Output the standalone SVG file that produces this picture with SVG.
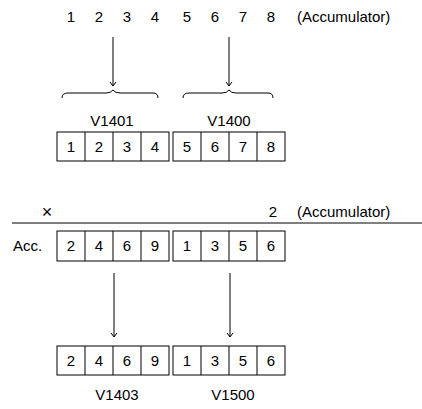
<svg xmlns="http://www.w3.org/2000/svg" width="422" height="409" viewBox="0 0 422 409">
<style>
text{font-family:"Liberation Sans",Arial,sans-serif;font-size:15px;fill:#000}
.c{text-anchor:middle}
.box{fill:#fff;stroke:#000;stroke-width:1}
.ln{fill:none;stroke:#000;stroke-width:1}
</style>
<defs>
<marker id="ah" markerWidth="8" markerHeight="8" refX="7" refY="4" orient="auto" markerUnits="userSpaceOnUse" viewBox="0 0 8 8">
<path d="M3,1 L7,4 L3,7" fill="none" stroke="#000" stroke-width="1"/>
</marker>
</defs>
<g id="top-acc">
<text class="c" x="71" y="22">1</text><text class="c" x="99" y="22">2</text><text class="c" x="127" y="22">3</text><text class="c" x="155" y="22">4</text>
<text class="c" x="187" y="22">5</text><text class="c" x="215" y="22">6</text><text class="c" x="243" y="22">7</text><text class="c" x="271" y="22">8</text>
<text x="297" y="22">(Accumulator)</text>
</g>
<g id="braces">
<path class="ln" d="M62,98 Q62,93 68,93 L106,93 Q111,93 113,90 Q115,93 120,93 L153,93 Q158,93 158,98"/>
<path class="ln" d="M183,98 Q183,93 189,93 L222,93 Q227,93 229,90 Q231,93 236,93 L268,93 Q273,93 273,98"/>
</g>
<g id="v1401">
<text class="c" x="112" y="126">V1401</text>
<rect class="box" x="57" y="132" width="112" height="29"/>
<path class="ln" d="M85,132V161M113,132V161M141,132V161"/>
<text class="c" x="71" y="152">1</text><text class="c" x="99" y="152">2</text><text class="c" x="127" y="152">3</text><text class="c" x="155" y="152">4</text>
</g>
<g id="v1400">
<text class="c" x="229" y="126">V1400</text>
<rect class="box" x="173" y="132" width="112" height="29"/>
<path class="ln" d="M201,132V161M229,132V161M257,132V161"/>
<text class="c" x="187" y="152">5</text><text class="c" x="215" y="152">6</text><text class="c" x="243" y="152">7</text><text class="c" x="271" y="152">8</text>
</g>
<g id="multiply">
<text class="c" x="47" y="218" style="font-size:18px">×</text>
<text class="c" x="273" y="217">2</text>
<text x="297" y="217">(Accumulator)</text>
<line class="ln" x1="12" y1="223" x2="422" y2="223"/>
</g>
<g id="acc">
<text x="13" y="251">Acc.</text>
<rect class="box" x="57" y="231" width="112" height="30"/>
<path class="ln" d="M85,231V261M113,231V261M141,231V261"/>
<text class="c" x="71" y="251">2</text><text class="c" x="99" y="251">4</text><text class="c" x="127" y="251">6</text><text class="c" x="155" y="251">9</text>
<rect class="box" x="173" y="231" width="112" height="30"/>
<path class="ln" d="M201,231V261M229,231V261M257,231V261"/>
<text class="c" x="187" y="251">1</text><text class="c" x="215" y="251">3</text><text class="c" x="243" y="251">5</text><text class="c" x="271" y="251">6</text>
</g>
<g id="v1403">
<rect class="box" x="57" y="346" width="112" height="29"/>
<path class="ln" d="M85,346V375M113,346V375M141,346V375"/>
<text class="c" x="71" y="366">2</text><text class="c" x="99" y="366">4</text><text class="c" x="127" y="366">6</text><text class="c" x="155" y="366">9</text>
<text class="c" x="117" y="400">V1403</text>
</g>
<g id="v1500">
<rect class="box" x="173" y="346" width="112" height="29"/>
<path class="ln" d="M201,346V375M229,346V375M257,346V375"/>
<text class="c" x="187" y="366">1</text><text class="c" x="215" y="366">3</text><text class="c" x="243" y="366">5</text><text class="c" x="271" y="366">6</text>
<text class="c" x="233" y="400">V1500</text>
</g>
<g id="connectors">
<line class="ln" x1="113" y1="37" x2="113" y2="86" marker-end="url(#ah)"/>
<line class="ln" x1="229" y1="37" x2="229" y2="86" marker-end="url(#ah)"/>
<line class="ln" x1="114" y1="273" x2="114" y2="337" marker-end="url(#ah)"/>
<line class="ln" x1="230" y1="273" x2="230" y2="337" marker-end="url(#ah)"/>
</g>
</svg>
